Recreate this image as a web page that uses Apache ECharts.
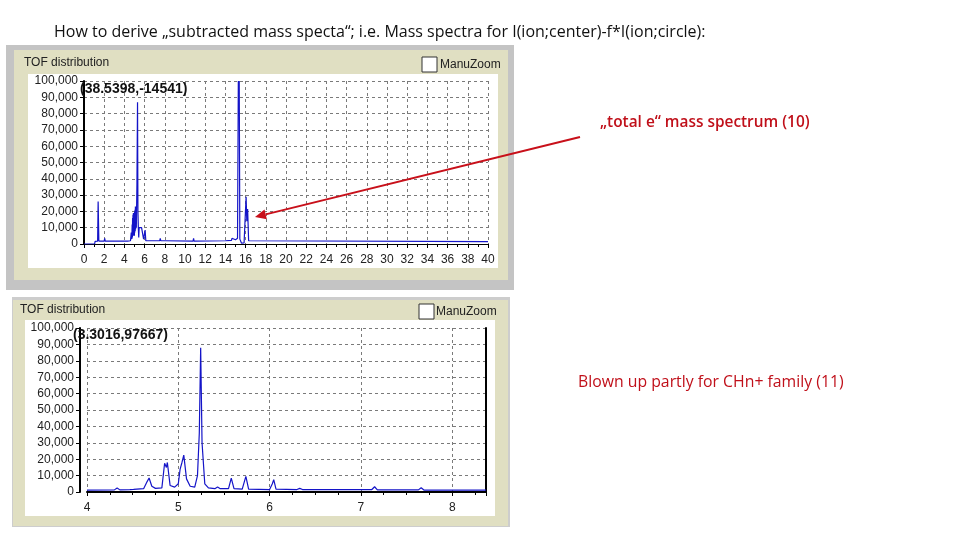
<!DOCTYPE html>
<html><head><meta charset="utf-8">
<script src="https://cdn.jsdelivr.net/npm/echarts@6/dist/echarts.min.js"></script>
<style>html,body{margin:0;padding:0;background:#fff}#c{width:960px;height:540px}</style>
</head><body><div id="c"></div>
<script>
// Full TOF distribution (mass/charge, counts)
const fullSpectrum = [
  [0,0],[1.05,0],[1.1,1600],[1.35,1800],[1.4,26000],[1.47,1800],
  [2.0,1800],[2.05,3500],[2.1,1800],[3.0,1800],[3.05,2600],[3.1,1800],
  [3.7,1800],[3.75,2600],[3.8,1800],[4.3,1800],[4.35,2800],[4.4,1900],
  [4.6,2000],[4.68,7000],[4.74,3000],[4.77,12000],[4.79,4000],[4.81,16000],[4.83,5000],
  [4.85,18000],[4.87,6000],[4.89,19000],[4.91,5000],[4.93,15000],[4.95,6000],
  [4.97,17000],[4.99,5000],[5.01,20000],[5.03,7000],[5.05,21000],[5.07,8000],
  [5.09,23000],[5.11,9000],[5.14,12000],[5.18,10000],[5.24,36000],[5.3,87000],
  [5.34,20000],[5.38,10000],[5.42,4000],
  [5.46,10000],[5.6,9500],[5.7,10000],[5.85,9500],[5.9,3000],[6.0,2500],
  [6.05,8600],[6.12,2000],[7.0,2000],[7.5,2000],[7.55,3500],[7.6,2000],
  [8.0,2000],[8.05,3000],[8.1,1800],[10.8,1800],[10.85,3500],[10.9,1800],
  [14.0,2000],[14.05,3000],[14.1,2000],[14.6,2200],[14.65,3500],[14.7,2300],
  [15.0,2600],[15.2,3500],[15.28,100000],[15.33,80000],[15.37,100000],[15.43,3000],
  [15.6,500],[15.85,600],[15.95,15000],[16.05,29000],[16.12,14000],[16.2,21500],
  [16.3,2000],[16.45,1500],[40,1500]
];
// Blown up CHn+ region
const zoomSpectrum = [
  [4,1200],[4.3,1300],[4.33,2500],[4.36,1300],[4.47,1500],[4.49,2500],[4.51,1600],
  [4.62,2000],[4.66,6500],[4.68,8500],[4.71,3500],[4.75,2200],[4.82,2500],
  [4.85,17500],[4.87,15000],[4.88,18000],[4.91,4000],[4.96,3000],[5.0,5000],
  [5.02,14000],[5.04,18000],[5.06,22500],[5.09,8000],[5.13,3500],[5.18,3000],
  [5.21,10000],[5.23,36000],[5.245,88000],[5.26,30000],[5.29,5000],[5.33,2500],
  [5.4,2000],[5.43,3000],[5.46,2000],[5.55,2000],[5.58,8500],[5.61,2000],
  [5.7,1800],[5.74,9500],[5.77,1800],[6.0,1500],[6.03,5000],[6.045,7500],[6.07,1800],
  [6.3,1500],[6.33,2200],[6.36,1500],[6.46,1500],[6.48,2200],[6.5,1500],
  [7.12,1500],[7.15,3200],[7.18,1300],[7.45,1300],[7.47,2000],[7.49,1300],
  [7.63,1300],[7.66,2600],[7.69,1200],[8.37,1200]
];
const fullRange = [0, 40, 2];
const zoomRange = [4, 8.37, 1];
const countRange = [0, 100000, 10000];
const panelTitle = 'TOF distribution';
const checkLabel = 'ManuZoom';
const cursorTop = '(38.5398,-14541)';
const cursorBottom = '(3.3016,97667)';
const headline = 'How to derive \u201esubtracted mass specta\u201c; i.e. Mass spectra for I(ion;center)-f*I(ion;circle):';
const note1 = '\u201etotal e\u201c mass spectrum (10)';
const note2 = 'Blown up partly for CHn+ family (11)';

const FONT = 'Liberation Sans, Arial, sans-serif';
const grid = '#7a7a7a';
const fmt = v => v.toLocaleString('en-US');

function yAx(gi, offset) {
  return {
    type: 'value', gridIndex: gi, min: countRange[0], max: countRange[1], interval: countRange[2],
    offset: offset,
    axisLine: {show: true, lineStyle: {color: '#000', width: 2}},
    axisTick: {show: true, length: 4, lineStyle: {color: '#000'}},
    axisLabel: {formatter: fmt, fontSize: 12, color: '#222', fontFamily: FONT, margin: 6},
    splitLine: {show: true, lineStyle: {color: grid, type: [3, 3], width: 1}}
  };
}
function xAx(gi, r, minorSplit, lw) {
  return {
    type: 'value', gridIndex: gi, min: r[0], max: r[1], interval: r[2],
    axisLine: {show: true, onZero: false, lineStyle: {color: '#000', width: lw}},
    axisTick: {show: true, length: 4, lineStyle: {color: '#000'}},
    minorTick: {show: true, splitNumber: minorSplit, length: 3, lineStyle: {color: '#000'}},
    axisLabel: {fontSize: 12, color: '#222', fontFamily: FONT, margin: 10, showMaxLabel: r[1] % r[2] === 0},
    splitLine: {show: true, lineStyle: {color: grid, type: [3, 3], width: 1}}
  };
}

const arrowTip = [255, 217], arrowTail = [580, 137];
const dx = arrowTip[0] - arrowTail[0], dy = arrowTip[1] - arrowTail[1];
const L = Math.hypot(dx, dy), ux = dx / L, uy = dy / L;
const hb = [arrowTip[0] - 11 * ux, arrowTip[1] - 11 * uy];
const px = -uy * 5, py = ux * 5;

const chart = echarts.init(document.getElementById('c'), null, {renderer: 'canvas'});
chart.setOption({
  animation: false,
  backgroundColor: '#fff',
  grid: [
    {left: 84, top: 81, width: 404, height: 163},
    {left: 87, top: 328, width: 399, height: 164}
  ],
  xAxis: [xAx(0, fullRange, 2, 1), xAx(1, zoomRange, 4, 2)],
  yAxis: [yAx(0, 0), yAx(1, 7),
    {type: 'value', gridIndex: 1, position: 'right', min: 0, max: 1,
     axisLine: {show: true, lineStyle: {color: '#000', width: 2}},
     axisTick: {show: false}, axisLabel: {show: false}, splitLine: {show: false}}],
  series: [
    {type: 'line', xAxisIndex: 0, yAxisIndex: 0, data: fullSpectrum, showSymbol: false,
     lineStyle: {color: '#1414c8', width: 1.2}, z: 5},
    {type: 'line', xAxisIndex: 1, yAxisIndex: 1, data: zoomSpectrum, showSymbol: false,
     lineStyle: {color: '#1414c8', width: 1.2}, z: 5}
  ],
  graphic: [
    // top window
    {type: 'rect', z: -10, shape: {x: 6, y: 45, width: 508, height: 245}, style: {fill: '#c4c4c4'}},
    {type: 'rect', z: -9, shape: {x: 14, y: 50, width: 494, height: 230}, style: {fill: '#e0dfc2'}},
    {type: 'rect', z: -8, shape: {x: 28, y: 74, width: 470, height: 194}, style: {fill: '#ffffff'}},
    {type: 'text', z: 50, x: 24, y: 63, style: {text: panelTitle, font: '12px ' + FONT, fill: '#222', textVerticalAlign: 'middle'}},
    {type: 'rect', z: 50, shape: {x: 422, y: 57, width: 15, height: 15}, style: {fill: '#fff', stroke: '#333', lineWidth: 1}},
    {type: 'text', z: 50, x: 440, y: 65, style: {text: checkLabel, font: '12px ' + FONT, fill: '#222', textVerticalAlign: 'middle'}},
    {type: 'text', z: 50, x: 80, y: 89, style: {text: cursorTop, font: 'bold 14px ' + FONT, fill: '#111', textVerticalAlign: 'middle'}},
    // bottom window
    {type: 'rect', z: -10, shape: {x: 12, y: 297, width: 498, height: 230}, style: {fill: '#cdcdcd'}},
    {type: 'rect', z: -9, shape: {x: 13, y: 300, width: 495, height: 226}, style: {fill: '#e0dfc2'}},
    {type: 'rect', z: -8, shape: {x: 25, y: 320, width: 470, height: 196}, style: {fill: '#ffffff'}},
    {type: 'text', z: 50, x: 20, y: 310, style: {text: panelTitle, font: '12px ' + FONT, fill: '#222', textVerticalAlign: 'middle'}},
    {type: 'rect', z: 50, shape: {x: 419, y: 304, width: 15, height: 15}, style: {fill: '#fff', stroke: '#333', lineWidth: 1}},
    {type: 'text', z: 50, x: 436, y: 312, style: {text: checkLabel, font: '12px ' + FONT, fill: '#222', textVerticalAlign: 'middle'}},
    {type: 'text', z: 50, x: 73, y: 335, style: {text: cursorBottom, font: 'bold 14px ' + FONT, fill: '#111', textVerticalAlign: 'middle'}},
    // headline and notes
    {type: 'text', z: 50, x: 54, y: 32, style: {text: headline, font: '16px "Open Sans", sans-serif', fill: '#111', textVerticalAlign: 'middle'}},
    {type: 'text', z: 50, x: 600, y: 123, style: {text: note1, font: '600 15.4px "Open Sans", sans-serif', fill: '#c0101a', textVerticalAlign: 'middle'}},
    {type: 'text', z: 50, x: 578, y: 382, style: {text: note2, font: '15.8px "Open Sans", sans-serif', fill: '#c0101a', textVerticalAlign: 'middle'}},
    // arrow
    {type: 'line', z: 60, shape: {x1: arrowTail[0], y1: arrowTail[1], x2: hb[0], y2: hb[1]}, style: {stroke: '#c8101a', lineWidth: 2}},
    {type: 'polygon', z: 60, shape: {points: [arrowTip, [hb[0] + px, hb[1] + py], [hb[0] - px, hb[1] - py]]}, style: {fill: '#c8101a'}}
  ]
});
</script></body></html>
